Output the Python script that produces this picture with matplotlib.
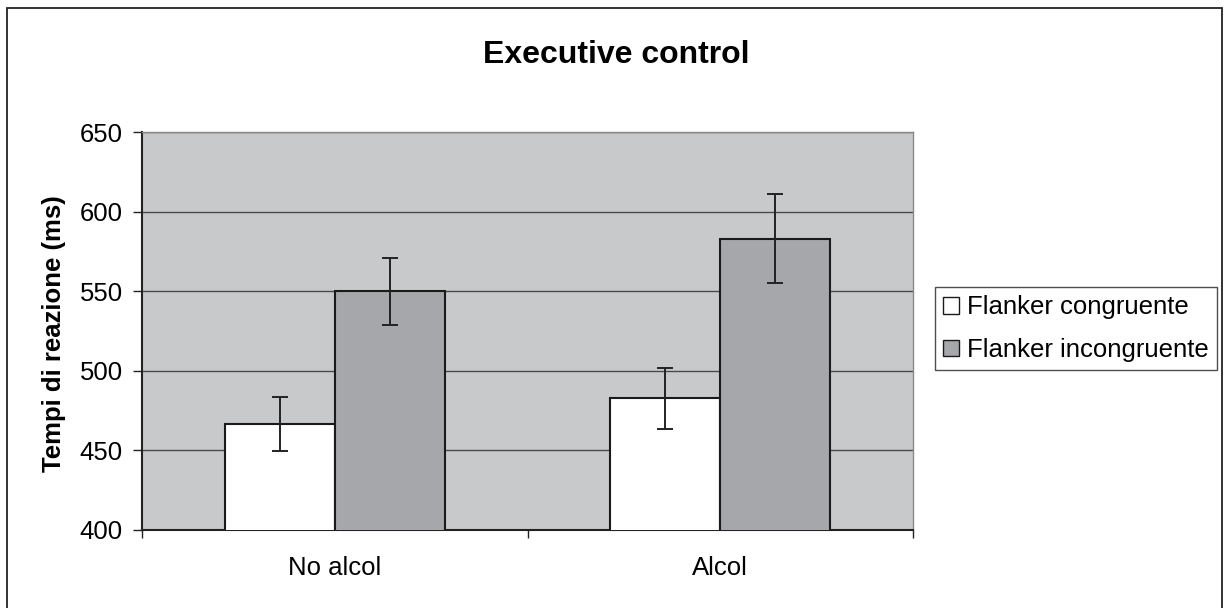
import matplotlib
matplotlib.use("Agg")
import matplotlib.pyplot as plt
from matplotlib.patches import Rectangle
import numpy as np

plt.rcParams['font.family'] = ['Liberation Sans', 'DejaVu Sans']

categories = ["No alcol", "Alcol"]
series_names = ["Flanker congruente", "Flanker incongruente"]
congruente = [466.5, 482.5]
incongruente = [550.0, 583.0]
err_congruente = [17.0, 19.0]
err_incongruente = [21.0, 28.0]
y_ticks = [400, 450, 500, 550, 600, 650]

W, H = 1228, 608
fig = plt.figure(figsize=(W / 100, H / 100), dpi=100)
fig.patch.set_facecolor("white")

# outer chart frame
fig.add_artist(Rectangle((7 / W, -0.05), (1222 - 7) / W, 1.05 - 8 / H,
                         transform=fig.transFigure, fill=False,
                         edgecolor="#222222", linewidth=1.3))

ax = fig.add_axes([142 / W, (608 - 529.5) / H, (913 - 142) / W, (529.5 - 132.3) / H])
ax.set_facecolor("#c8c9cb")

x = np.arange(len(categories))
bw = 1 / 3.5
err_kw = dict(ecolor="#222222", elinewidth=1.4, capsize=5.5, capthick=1.4)
ax.bar(x - bw / 2, congruente, bw, color="white", edgecolor="#1a1a1a",
       linewidth=1.5, yerr=err_congruente, error_kw=err_kw, label=series_names[0], zorder=3)
ax.bar(x + bw / 2, incongruente, bw, color="#a6a7ab", edgecolor="#1a1a1a",
       linewidth=1.5, yerr=err_incongruente, error_kw=err_kw, label=series_names[1], zorder=3)

fs = 18.5
ax.set_ylim(400, 650)
ax.set_xlim(-0.5, len(categories) - 0.5)
ax.set_yticks(y_ticks)
ax.set_yticklabels([str(t) for t in y_ticks], fontsize=fs)
ax.yaxis.grid(True, color="#4a4a4a", linewidth=1.0, zorder=1)
ax.set_axisbelow(True)

ax.set_xticks(np.arange(-0.5, len(categories), 1.0))
ax.set_xticklabels([])
ax.set_xticks(x, minor=True)
ax.set_xticklabels(categories, minor=True, fontsize=fs)
ax.tick_params(axis="x", which="major", length=6, width=1.0, color="#222222", direction="out")
ax.tick_params(axis="x", which="minor", length=0, pad=19)
ax.tick_params(axis="y", length=6.5, width=1.0, color="#222222", direction="out", pad=7.5)

for side in ("left", "bottom"):
    ax.spines[side].set_color("#222222")
    ax.spines[side].set_linewidth(1.5)
for side in ("top", "right"):
    ax.spines[side].set_color("#8a8a8a")
    ax.spines[side].set_linewidth(1.0)

ax.set_ylabel("Tempi di reazione (ms)", fontsize=fs, fontweight="bold", va="center")
ax.yaxis.set_label_coords((53.5 - 142) / 771, (529.5 - 334) / 397.2)

fig.text(616.5 / W, 1 - 63 / H, "Executive control", ha="center", va="baseline",
         fontsize=23, fontweight="bold")

leg = ax.legend(loc="upper left", bbox_to_anchor=(935 / W, 1 - 287 / H),
                bbox_transform=fig.transFigure, fontsize=fs, frameon=True,
                fancybox=False, shadow=False, handlelength=0.62, handleheight=0.6,
                handletextpad=0.3, borderpad=0.33, labelspacing=0.72,
                borderaxespad=0)
leg.get_frame().set_edgecolor("#222222")
leg.get_frame().set_linewidth(1.0)
for h in leg.legend_handles:
    h.set_linewidth(1.0)

fig.savefig("out.png", dpi=100, facecolor="white")
